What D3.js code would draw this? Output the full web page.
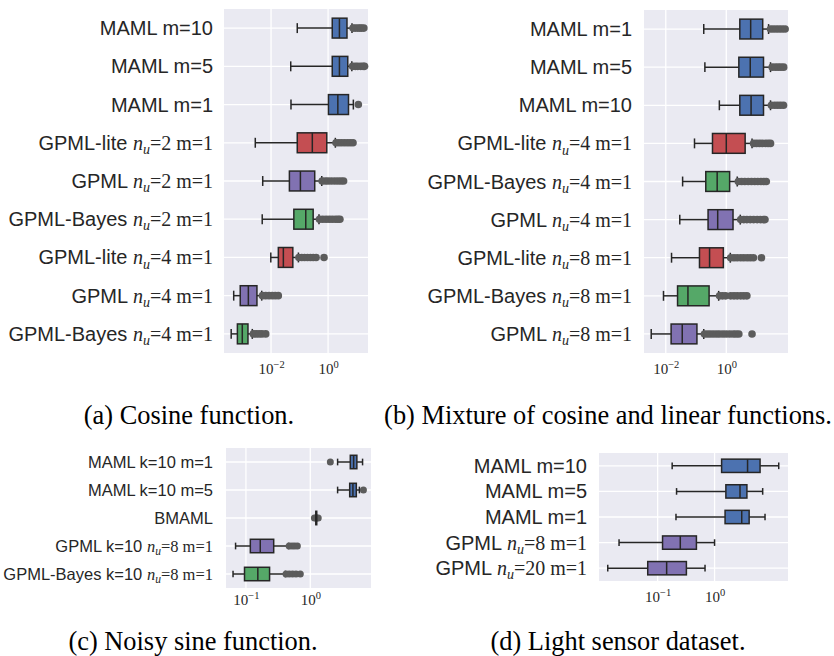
<!DOCTYPE html>
<html>
<head>
<meta charset="utf-8">
<script src="https://cdn.jsdelivr.net/npm/d3@7"></script>
<style>
  body { margin: 0; background: #fff; }
</style>
</head>
<body>
<div id="chart"></div>
<script>
// ---- data ----
// box stats are [lower whisker, q1, median, q3, upper whisker]

// (a) Cosine function
const labelsA = ["MAML m=10", "MAML m=5", "MAML m=1", "GPML-lite n_u=2 m=1", "GPML n_u=2 m=1",
  "GPML-Bayes n_u=2 m=1", "GPML-lite n_u=4 m=1", "GPML n_u=4 m=1", "GPML-Bayes n_u=4 m=1"];
const methodA = ["MAML", "MAML", "MAML", "GPML-lite", "GPML", "GPML-Bayes", "GPML-lite", "GPML", "GPML-Bayes"];
const boxesA = [
  [0.083, 1.4, 2.5, 4.6, 6.9],
  [0.049, 1.4, 2.5, 4.9, 6.8],
  [0.05, 1.03, 2.2, 5.2, 7.7],
  [0.0028, 0.083, 0.28, 0.9, 1.8],
  [0.0051, 0.044, 0.107, 0.34, 0.6],
  [0.0049, 0.063, 0.165, 0.3, 0.48],
  [0.0098, 0.018, 0.027, 0.058, 0.091],
  [0.00049, 0.00083, 0.0016, 0.0032, 0.0047],
  [0.0004, 0.00066, 0.00098, 0.00155, 0.0022]
];
const fliersA = [
  [7.5, 9, 11, 13, 15, 18],
  [7.2, 9, 11, 14, 17, 19],
  [11.5],
  [1.9, 2.4, 3.0, 3.8, 4.8, 6, 7.5],
  [0.62, 0.8, 1.0, 1.3, 1.7, 2.2, 2.8, 3.5],
  [0.5, 0.65, 0.85, 1.1, 1.4, 1.8, 2.2, 2.6],
  [0.095, 0.12, 0.15, 0.19, 0.24, 0.3, 0.38, 0.72],
  [0.005, 0.0065, 0.0085, 0.011, 0.014, 0.018],
  [0.0024, 0.003, 0.0038, 0.0048, 0.0065]
];
const ticksA = [1e-2, 1];

// (b) Mixture of cosine and linear functions
const labelsB = ["MAML m=1", "MAML m=5", "MAML m=10", "GPML-lite n_u=4 m=1", "GPML-Bayes n_u=4 m=1",
  "GPML n_u=4 m=1", "GPML-lite n_u=8 m=1", "GPML-Bayes n_u=8 m=1", "GPML n_u=8 m=1"];
const methodB = ["MAML", "MAML", "MAML", "GPML-lite", "GPML-Bayes", "GPML", "GPML-lite", "GPML-Bayes", "GPML"];
const boxesB = [
  [0.18, 2.8, 6.4, 16, 25],
  [0.196, 2.6, 6.2, 17, 29],
  [0.59, 2.8, 6.6, 17, 29],
  [0.089, 0.35, 1.0, 4.2, 7.1],
  [0.036, 0.21, 0.5, 1.29, 2.3],
  [0.029, 0.25, 0.52, 1.67, 2.9],
  [0.0155, 0.13, 0.28, 0.8, 1.36],
  [0.0084, 0.0245, 0.054, 0.27, 0.56],
  [0.0033, 0.015, 0.035, 0.107, 0.18]
];
const fliersB = [
  [29, 36, 45, 56, 70, 88],
  [33, 42, 52, 64, 79],
  [31, 40, 50, 62, 78],
  [8, 10, 12.5, 15.5, 19.5, 24, 29],
  [2.5, 3.2, 4.1, 5.3, 6.8, 8.7, 11, 14, 17.5, 21],
  [3.0, 3.8, 4.8, 6.2, 8, 10.5, 13.5, 17, 19],
  [1.4, 1.8, 2.3, 3.0, 3.8, 4.9, 6.2, 7.9, 14.5],
  [0.6, 0.75, 0.95, 1.4, 1.8, 2.3, 3.0, 3.8, 4.8],
  [0.19, 0.24, 0.3, 0.38, 0.48, 0.6, 0.78, 1.0, 1.3, 1.7, 2.1, 2.6, 7.1]
];
const ticksB = [1e-2, 1];

// (c) Noisy sine function
const labelsC = ["MAML k=10 m=1", "MAML k=10 m=5", "BMAML", "GPML k=10 n_u=8 m=1", "GPML-Bayes k=10 n_u=8 m=1"];
const methodC = ["MAML", "MAML", "BMAML", "GPML", "GPML-Bayes"];
const boxesC = [
  [2.66, 4.19, 4.72, 5.3, 6.5],
  [2.66, 4.1, 4.6, 5.2, 5.8],
  [1.19, 1.22, 1.24, 1.26, 1.29],
  [0.069, 0.117, 0.167, 0.27, 0.46],
  [0.063, 0.095, 0.153, 0.233, 0.41]
];
const fliersC = [
  [2.05],
  [6.7],
  [1.16, 1.33],
  [0.47, 0.52, 0.57, 0.63],
  [0.42, 0.47, 0.53, 0.6, 0.7]
];
const ticksC = [1e-1, 1];

// (d) Light sensor dataset
const labelsD = ["MAML m=10", "MAML m=5", "MAML m=1", "GPML n_u=8 m=1", "GPML n_u=20 m=1"];
const methodD = ["MAML", "MAML", "MAML", "GPML", "GPML"];
const boxesD = [
  [0.18, 1.33, 3.8, 6.3, 13.4],
  [0.215, 1.58, 2.8, 3.7, 7.0],
  [0.21, 1.53, 3.0, 4.05, 7.7],
  [0.021, 0.122, 0.25, 0.48, 1.0],
  [0.0133, 0.067, 0.144, 0.32, 0.68]
];
const fliersD = [[], [], [], [], []];
const ticksD = [1e-1, 1];

const captions = ["(a) Cosine function.", "(b) Mixture of cosine and linear functions.",
  "(c) Noisy sine function.", "(d) Light sensor dataset."];

// ---- look ----
const width = 834;
const height = 656;
const SANS = "'Liberation Sans', Arial, sans-serif";
const SERIF = "'Liberation Serif', 'Times New Roman', serif";

const color = d3.scaleOrdinal()
  .domain(["MAML", "GPML-lite", "GPML", "GPML-Bayes", "BMAML"])
  .range(["#4C72B0", "#C44E52", "#8172B2", "#55A868", "#555555"]);

const svg = d3.select("#chart").append("svg")
  .attr("width", width)
  .attr("height", height);

// label with an optional "n_u" math part: sans text, then italic n with subscript u, then serif rest
function richLabel(sel) {
  sel.each(function (d) {
    const t = d3.select(this).text(null);
    const i = d.indexOf("n_u");
    if (i < 0) {
      t.append("tspan").attr("font-family", SANS).text(d);
      return;
    }
    t.append("tspan").attr("font-family", SANS).text(d.slice(0, i));
    t.append("tspan").attr("font-family", SERIF).attr("font-style", "italic").text("n");
    t.append("tspan").attr("font-family", SERIF).attr("font-style", "italic")
      .attr("font-size", "0.7em").attr("dy", "0.3em").text("u");
    t.append("tspan").attr("font-family", SERIF).attr("dy", "-0.21em").text(d.slice(i + 3));
  });
}

function powLabel(sel) {
  sel.each(function (d) {
    const e = Math.round(Math.log10(d));
    const t = d3.select(this).text(null).attr("font-family", SERIF);
    t.append("tspan").text("10");
    t.append("tspan").attr("font-size", "0.7em").attr("dy", "-0.55em")
      .text(e < 0 ? "\u2212" + (-e) : String(e));
  });
}

function drawPanel(p, labels, methods, boxes, fliers, ticks) {
  const x = d3.scaleLog().domain(p.domain).range([p.x0, p.x1]);
  const y = d3.scaleBand().domain(labels).range([p.y0, p.y1]);
  const bh = y.bandwidth() * p.boxFrac;
  const g = svg.append("g");

  g.append("rect")
    .attr("x", p.x0).attr("y", p.y0)
    .attr("width", p.x1 - p.x0).attr("height", p.y1 - p.y0)
    .attr("fill", "#EAEAF2");

  // grid
  g.selectAll("line.vgrid").data(ticks).join("line")
    .attr("class", "vgrid")
    .attr("x1", d => x(d)).attr("x2", d => x(d))
    .attr("y1", p.y0).attr("y2", p.y1)
    .attr("stroke", "#fff").attr("stroke-width", 1.3);
  g.selectAll("line.hgrid").data(labels).join("line")
    .attr("class", "hgrid")
    .attr("x1", p.x0).attr("x2", p.x1)
    .attr("y1", d => y(d) + y.bandwidth() / 2).attr("y2", d => y(d) + y.bandwidth() / 2)
    .attr("stroke", "#fff").attr("stroke-width", 1.3);

  const rows = labels.map((l, i) => ({ label: l, method: methods[i], s: boxes[i], f: fliers[i] }));
  const row = g.selectAll("g.row").data(rows).join("g")
    .attr("class", "row")
    .attr("transform", d => `translate(0,${y(d.label) + y.bandwidth() / 2})`);

  const ink = "#262626";
  // whiskers
  row.append("line").attr("x1", d => x(d.s[0])).attr("x2", d => x(d.s[1]))
    .attr("stroke", ink).attr("stroke-width", 1.5);
  row.append("line").attr("x1", d => x(d.s[3])).attr("x2", d => x(d.s[4]))
    .attr("stroke", ink).attr("stroke-width", 1.5);
  // caps
  [0, 4].forEach(k => {
    row.append("line").attr("x1", d => x(d.s[k])).attr("x2", d => x(d.s[k]))
      .attr("y1", -bh / 4).attr("y2", bh / 4)
      .attr("stroke", ink).attr("stroke-width", 1.5);
  });
  // fliers
  row.selectAll("circle").data(d => d.f).join("circle")
    .attr("cx", d => x(d)).attr("cy", 0).attr("r", p.flierR)
    .attr("fill", "#5c5c5c");
  // box
  row.append("rect")
    .attr("x", d => x(d.s[1])).attr("width", d => x(d.s[3]) - x(d.s[1]))
    .attr("y", -bh / 2).attr("height", bh)
    .attr("fill", d => color(d.method))
    .attr("stroke", ink).attr("stroke-width", 1.5);
  // median
  row.append("line").attr("x1", d => x(d.s[2])).attr("x2", d => x(d.s[2]))
    .attr("y1", -bh / 2).attr("y2", bh / 2)
    .attr("stroke", ink).attr("stroke-width", 1.5);

  // axes
  const ax = g.append("g")
    .attr("transform", `translate(0,${p.y1})`)
    .call(d3.axisBottom(x).tickValues(ticks).tickSize(0));
  ax.select(".domain").remove();
  ax.selectAll("text")
    .attr("y", p.tickY).attr("dy", null)
    .attr("font-size", p.tickSize).attr("fill", "#262626")
    .call(powLabel);

  const ay = g.append("g")
    .attr("transform", `translate(${p.x0},0)`)
    .call(d3.axisLeft(y).tickSize(0).tickPadding(p.labelPad));
  ay.select(".domain").remove();
  ay.selectAll("text")
    .attr("font-size", p.labelSize).attr("fill", "#262626")
    .attr("dy", "0.35em")
    .call(richLabel);
}

drawPanel({ x0: 224, x1: 368, y0: 9, y1: 353, domain: [Math.pow(10, -3.65), Math.pow(10, 1.4)],
  boxFrac: 0.52, flierR: 3.8, tickY: 21, tickSize: 15, labelSize: 20, labelPad: 11 },
  labelsA, methodA, boxesA, fliersA, ticksA);

drawPanel({ x0: 644, x1: 788, y0: 10, y1: 353, domain: [Math.pow(10, -2.72), Math.pow(10, 2.04)],
  boxFrac: 0.52, flierR: 3.8, tickY: 21, tickSize: 15, labelSize: 20, labelPad: 12 },
  labelsB, methodB, boxesB, fliersB, ticksB);

drawPanel({ x0: 226, x1: 371, y0: 448, y1: 588, domain: [Math.pow(10, -1.31), Math.pow(10, 0.944)],
  boxFrac: 0.48, flierR: 3.5, tickY: 17, tickSize: 15, labelSize: 16.5, labelPad: 13 },
  labelsC, methodC, boxesC, fliersC, ticksC);

drawPanel({ x0: 599, x1: 788, y0: 453, y1: 581, domain: [Math.pow(10, -2.03), Math.pow(10, 1.29)],
  boxFrac: 0.52, flierR: 3.5, tickY: 21, tickSize: 15, labelSize: 20, labelPad: 12 },
  labelsD, methodD, boxesD, fliersD, ticksD);

// captions
const capPos = [[189, 424], [608, 424], [193, 650], [618, 650]];
svg.selectAll("text.caption").data(captions).join("text")
  .attr("class", "caption")
  .attr("x", (d, i) => capPos[i][0]).attr("y", (d, i) => capPos[i][1])
  .attr("text-anchor", "middle")
  .attr("font-family", SERIF).attr("font-size", 26.4)
  .attr("fill", "#000")
  .text(d => d);
</script>
</body>
</html>
